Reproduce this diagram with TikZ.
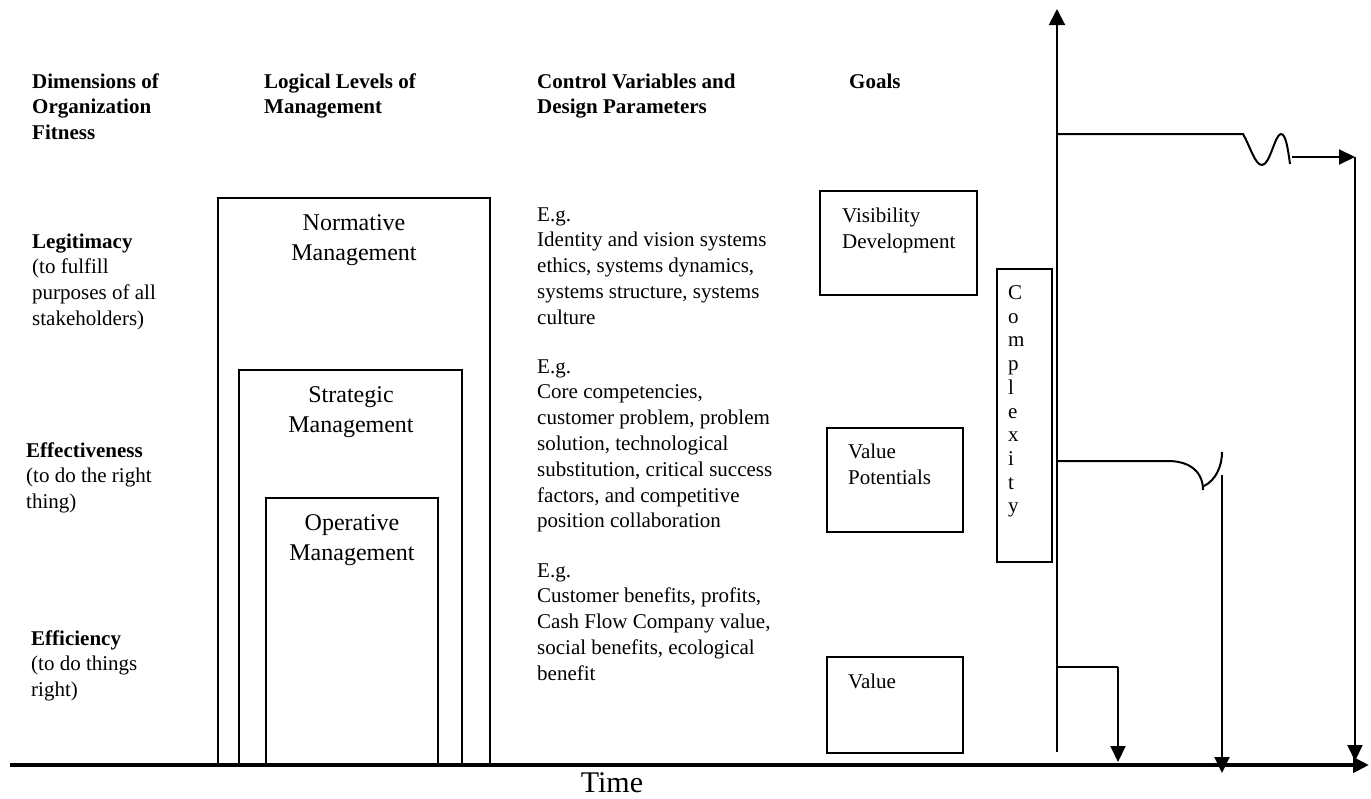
\documentclass[tikz,border=0pt]{standalone}
\usepackage{fontspec}
\setmainfont{Liberation Serif}
\usetikzlibrary{arrows.meta}

% a column of lines whose baseline is that of its first line
\newcommand{\rows}[2][l]{\begin{tabular}[t]{@{}#1@{}}#2\end{tabular}}

\tikzset{
  hdr/.style   = {anchor=base west, inner sep=0, font=\fontsize{21}{25.8}\selectfont\bfseries},
  txt/.style   = {anchor=base west, inner sep=0, font=\fontsize{21}{25.8}\selectfont},
  lvltext/.style = {anchor=base, inner sep=0, font=\fontsize{24}{30}\selectfont},
  goaltext/.style = {anchor=base west, inner sep=0, font=\fontsize{21}{26.3}\selectfont},
  box/.style   = {draw, line width=1.8pt, anchor=north west, inner sep=0, outer sep=0},
  timeaxis/.style = {line width=4pt, -{Triangle[length=16pt,width=15pt]}},
  conn/.style  = {line width=2pt},
  arr/.style   = {line width=2pt, -{Triangle[length=16pt,width=15pt]}},
}

\begin{document}
\begin{tikzpicture}[x=1pt, y=-1pt]
\useasboundingbox (0,0) rectangle (1371,798);

% column headings
\node[hdr] (h1) at (32,88)  {\rows{Dimensions of\\Organization\\Fitness}};
\node[hdr] (h2) at (264,88) {\rows{Logical Levels of\\Management}};
\node[hdr] (h3) at (537,88) {\rows{Control Variables and\\Design Parameters}};
\node[hdr] (h4) at (849,88) {Goals};

% dimensions of fitness
\node[txt] (legit) at (32,248)  {\rows{\textbf{Legitimacy}\\(to fulfill\\purposes of all\\stakeholders)}};
\node[txt] (effect) at (26,457) {\rows{\textbf{Effectiveness}\\(to do the right\\thing)}};
\node[txt] (effic) at (31,645)  {\rows{\textbf{Efficiency}\\(to do things\\right)}};

% nested management levels
\node[box, minimum width=272, minimum height=567] (norm) at (218,198) {};
\node[box, minimum width=223, minimum height=395] (strat) at (239,370) {};
\node[box, minimum width=172, minimum height=267] (oper) at (266,498) {};
\node[lvltext] (normt)  at (354,230) {\rows[c]{Normative\\Management}};
\node[lvltext] (stratt) at (351,402) {\rows[c]{Strategic\\Management}};
\node[lvltext] (opert)  at (352,530) {\rows[c]{Operative\\Management}};

% control variables and design parameters
\node[txt] (cv1) at (537,221) {\rows{E.g.\\Identity and vision systems\\ethics, systems dynamics,\\systems structure, systems\\culture}};
\node[txt] (cv2) at (537,373) {\rows{E.g.\\Core competencies,\\customer problem, problem\\solution, technological\\substitution, critical success\\factors, and competitive\\position collaboration}};
\node[txt] (cv3) at (537,577) {\rows{E.g.\\Customer benefits, profits,\\Cash Flow Company value,\\social benefits, ecological\\benefit}};

% goals
\node[box, minimum width=157, minimum height=104] (g1) at (820,191) {};
\node[box, minimum width=136, minimum height=104] (g2) at (827,428) {};
\node[box, minimum width=136, minimum height=96]  (g3) at (827,657) {};
\node[goaltext] (g1t) at (842,222) {\rows{Visibility\\Development}};
\node[goaltext] (g2t) at (848,458) {\rows{Value\\Potentials}};
\node[goaltext] (g3t) at (848,688) {Value};

% complexity
\node[box, line width=1.6pt, minimum width=55, minimum height=293] (cx) at (997,269) {};
\node[anchor=base west, inner sep=0, font=\fontsize{21}{23.7}\selectfont] (cxt) at (1008,299.5)
  {\rows{C\\o\\m\\p\\l\\e\\x\\i\\t\\y}};

% time axis
\coordinate (t0) at (10,765);
\coordinate (t1) at (1369,765);
\draw[timeaxis] (t0) -- (t1);
\node[anchor=base, inner sep=0, font=\fontsize{30}{36}\selectfont] (time) at (612,792) {Time};

% complexity axis
\coordinate (c0) at (1057,752);
\coordinate (c1) at (1057,9);
\draw[conn, -{Triangle[length=16pt,width=16pt]}] (c0) -- (c1);

% upper branch with wave
\coordinate (u0) at (1057,134);
\coordinate (u1) at (1243,134);
\coordinate (u2) at (1290,164);
\coordinate (u3) at (1292,157);
\coordinate (u4) at (1355,157);
\coordinate (u5) at (1355,761);
\draw[conn] (u0) -- (u1)
  .. controls (1250,146) and (1255,165) .. (1262,165)
  .. controls (1270,165) and (1275,134) .. (1281,134)
  .. controls (1286,134) and (1288,150) .. (u2);
\draw[arr] (u3) -- (u4);
\draw[arr] (u4) -- (u5);

% middle branch with hook
\coordinate (m0) at (1057,461);
\coordinate (m1) at (1168,461);
\coordinate (m2) at (1203,490);
\coordinate (m3) at (1204,486);
\coordinate (m4) at (1222,452);
\coordinate (m5) at (1222,475);
\coordinate (m6) at (1222,773);
\draw[conn] (m0) -- (m1) .. controls (1190,461) and (1203,472) .. (m2);
\draw[conn] (m3) .. controls (1216,480) and (1222,466) .. (m4);
\draw[arr] (m5) -- (m6);

% lower branch
\coordinate (l0) at (1057,667);
\coordinate (l1) at (1118,667);
\coordinate (l2) at (1118,762);
\draw[conn] (l0) -- (l1);
\draw[arr] (l1) -- (l2);
\end{tikzpicture}
\end{document}
